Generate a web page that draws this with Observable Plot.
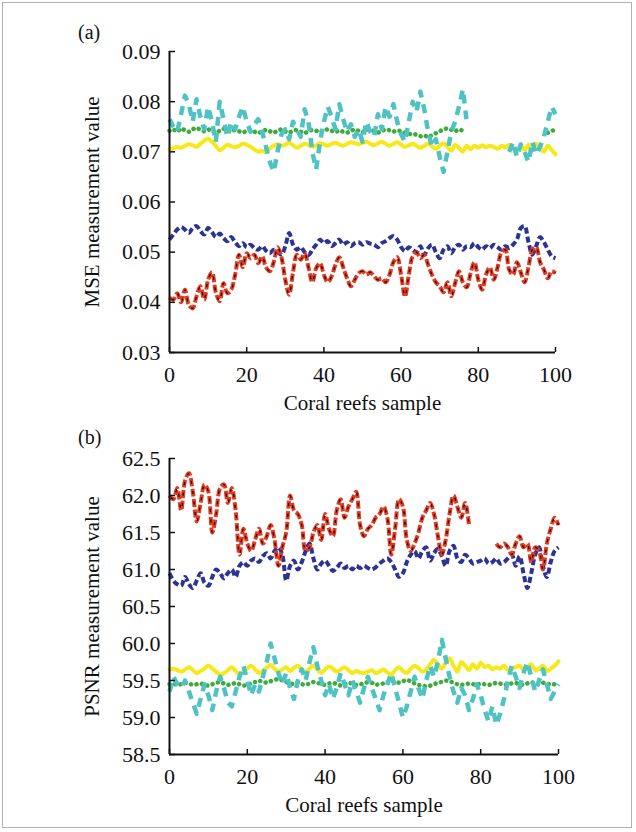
<!DOCTYPE html>
<html>
<head>
<meta charset="utf-8">
<script src="https://cdn.jsdelivr.net/npm/d3@7"></script>
<script src="https://cdn.jsdelivr.net/npm/@observablehq/plot@0.6"></script>
<style>
  html, body { margin: 0; padding: 0; background: #fff; }
  #wrap { position: relative; width: 636px; height: 832px; overflow: hidden; font-family: "Liberation Serif", "Times New Roman", serif; }
  #wrap svg, #wrap svg text { font-family: "Liberation Serif", "Times New Roman", serif !important; }
  #frame { position: absolute; left: 2px; top: 2px; width: 630px; height: 826px; border: 1.5px solid #b0b0b0; box-sizing: border-box; pointer-events: none; }
  .panel { position: absolute; left: 0; }
  .tag { position: absolute; font-size: 20px; color: #111; }
</style>
</head>
<body>
<div id="wrap">
  <div id="pa" class="panel" style="top:0px"></div>
  <div id="pb" class="panel" style="top:415px"></div>
  <div class="tag" style="left:78px; top:21px">(a)</div>
  <div class="tag" style="left:78px; top:426px">(b)</div>
  <div id="frame"></div>
</div>
<script>
// ---------- data ----------
const samples = d3.range(0, 101);
const xTicks = [0, 20, 40, 60, 80, 100];
const mseTicks = [0.03, 0.04, 0.05, 0.06, 0.07, 0.08, 0.09];
const psnrTicks = [58.5, 59.0, 59.5, 60.0, 60.5, 61.0, 61.5, 62.0, 62.5];

const N = null;
// (a) MSE
const mseCyan = [0.0765,0.0750,0.0740,0.0775,0.0812,0.0795,0.0760,0.0805,0.0770,0.0745,0.0790,0.0760,0.0720,0.0800,0.0765,0.0730,0.0760,0.0745,0.0770,0.0790,0.0760,0.0740,0.0755,0.0765,0.0740,0.0710,0.0680,0.0660,0.0700,0.0735,0.0745,0.0725,0.0760,0.0745,0.0730,0.0785,0.0760,0.0700,0.0665,0.0720,0.0760,0.0790,0.0770,0.0745,0.0795,0.0765,0.0740,0.0755,0.0730,0.0745,0.0720,0.0760,0.0740,0.0730,0.0775,0.0745,0.0790,0.0770,0.0795,0.0760,0.0735,0.0720,0.0760,0.0800,0.0780,0.0820,0.0785,0.0740,0.0710,0.0725,0.0690,0.0660,0.0700,0.0740,0.0760,0.0790,0.0825,0.0760,N,N,N,N,N,N,N,N,N,N,0.0700,0.0720,0.0690,0.0715,0.0700,0.0680,0.0720,0.0695,0.0710,0.0730,0.0760,0.0790,0.0775];
const mseGreen = [0.0742,0.0745,0.0740,0.0747,0.0743,0.0740,0.0745,0.0748,0.0744,0.0741,0.0745,0.0742,0.0738,0.0742,0.0746,0.0743,0.0740,0.0744,0.0741,0.0738,0.0742,0.0744,0.0740,0.0737,0.0741,0.0744,0.0741,0.0738,0.0742,0.0745,0.0741,0.0738,0.0742,0.0744,0.0740,0.0737,0.0741,0.0744,0.0742,0.0739,0.0743,0.0745,0.0742,0.0739,0.0743,0.0740,0.0738,0.0742,0.0745,0.0742,0.0739,0.0743,0.0745,0.0741,0.0738,0.0742,0.0745,0.0743,0.0740,0.0743,0.0741,0.0738,0.0735,0.0737,0.0734,0.0731,0.0733,0.0729,0.0733,0.0737,0.0741,0.0745,0.0747,0.0744,0.0741,0.0745,0.0742,0.0740,N,N,N,N,N,N,N,N,N,N,N,N,N,N,N,N,N,N,N,N,0.0738,0.0742,0.0744];
const mseYellow = [0.0705,0.0707,0.0710,0.0708,0.0712,0.0715,0.0713,0.0710,0.0716,0.0722,0.0726,0.0720,0.0712,0.0703,0.0708,0.0714,0.0711,0.0709,0.0712,0.0716,0.0714,0.0710,0.0705,0.0700,0.0702,0.0700,0.0707,0.0712,0.0715,0.0712,0.0714,0.0718,0.0713,0.0708,0.0712,0.0716,0.0714,0.0710,0.0713,0.0717,0.0715,0.0712,0.0716,0.0718,0.0715,0.0712,0.0716,0.0719,0.0717,0.0715,0.0718,0.0720,0.0716,0.0713,0.0717,0.0720,0.0716,0.0712,0.0716,0.0719,0.0714,0.0710,0.0713,0.0716,0.0712,0.0708,0.0712,0.0716,0.0711,0.0706,0.0712,0.0717,0.0710,0.0702,0.0714,0.0708,0.0700,0.0712,0.0705,0.0712,0.0708,0.0713,0.0709,0.0712,0.0710,0.0706,0.0712,0.0708,0.0714,0.0706,0.0700,0.0712,0.0704,0.0714,0.0702,0.0716,0.0708,0.0700,0.0712,0.0704,0.0695];
const mseBlue = [0.0525,0.0535,0.0545,0.0550,0.0545,0.0538,0.0548,0.0552,0.0542,0.0535,0.0548,0.0540,0.0530,0.0537,0.0528,0.0522,0.0530,0.0520,0.0512,0.0518,0.0510,0.0515,0.0508,0.0505,0.0512,0.0503,0.0498,0.0505,0.0500,0.0495,0.0512,0.0538,0.0515,0.0505,0.0510,0.0500,0.0494,0.0505,0.0515,0.0525,0.0518,0.0522,0.0512,0.0518,0.0525,0.0515,0.0520,0.0512,0.0518,0.0520,0.0515,0.0520,0.0517,0.0515,0.0510,0.0518,0.0522,0.0528,0.0532,0.0525,0.0510,0.0502,0.0510,0.0505,0.0500,0.0512,0.0495,0.0508,0.0515,0.0500,0.0488,0.0505,0.0512,0.0498,0.0510,0.0515,0.0505,0.0512,0.0510,0.0518,0.0510,0.0505,0.0512,0.0508,0.0515,0.0510,0.0505,0.0512,0.0508,0.0515,0.0525,0.0548,0.0552,0.0520,0.0495,0.0512,0.0530,0.0520,0.0505,0.0492,0.0488];
const mseRed = [0.0410,0.0405,0.0418,0.0400,0.0425,0.0395,0.0388,0.0412,0.0432,0.0405,0.0445,0.0460,0.0420,0.0402,0.0438,0.0418,0.0425,0.0455,0.0495,0.0470,0.0498,0.0488,0.0495,0.0478,0.0492,0.0470,0.0462,0.0480,0.0510,0.0490,0.0445,0.0415,0.0460,0.0495,0.0485,0.0498,0.0470,0.0440,0.0468,0.0478,0.0455,0.0440,0.0452,0.0475,0.0490,0.0470,0.0448,0.0432,0.0445,0.0458,0.0462,0.0455,0.0460,0.0452,0.0445,0.0448,0.0440,0.0455,0.0480,0.0490,0.0455,0.0412,0.0455,0.0492,0.0500,0.0488,0.0495,0.0475,0.0455,0.0440,0.0432,0.0420,0.0440,0.0412,0.0438,0.0462,0.0440,0.0430,0.0458,0.0480,0.0445,0.0425,0.0455,0.0470,0.0445,0.0470,0.0500,0.0505,0.0465,0.0455,0.0480,0.0460,0.0440,0.0470,0.0505,0.0510,0.0480,0.0465,0.0448,0.0462,0.0458];

// (b) PSNR
const psnrRed = [62.00,61.95,62.10,61.80,62.20,62.30,62.05,61.65,61.90,62.15,62.05,61.50,61.75,62.10,62.15,61.90,62.10,61.80,61.20,61.55,61.35,61.25,61.40,61.55,61.35,61.45,61.60,61.40,61.05,61.30,61.50,62.00,61.80,61.75,61.60,61.25,61.30,61.50,61.60,61.40,61.75,61.55,61.45,61.80,61.95,61.70,61.85,61.95,62.05,61.60,61.45,61.55,61.60,61.70,61.75,61.85,61.70,61.20,61.55,61.95,61.85,61.40,61.25,61.35,61.50,61.70,61.80,61.90,61.75,61.45,61.20,61.40,61.75,62.00,61.85,61.70,61.90,61.60,N,N,N,N,N,N,61.35,61.30,61.35,61.30,61.20,61.35,61.45,61.30,61.35,61.10,61.30,61.25,61.00,61.35,61.55,61.70,61.60];
const psnrBlue = [60.95,60.85,60.80,60.78,60.90,60.80,60.75,60.85,60.95,60.82,60.78,60.90,61.00,60.95,60.88,60.95,61.00,60.90,61.05,61.10,61.05,61.12,61.15,61.10,61.18,61.22,61.15,61.25,61.30,61.20,60.85,61.05,61.12,61.00,61.10,61.25,61.35,61.15,61.00,61.08,61.12,61.05,60.98,61.02,61.08,61.02,61.05,61.00,61.05,61.02,61.05,61.02,61.00,61.03,61.08,61.12,61.15,61.10,61.00,60.90,60.95,61.10,61.20,61.25,61.15,61.25,61.30,61.12,61.22,61.28,61.18,61.05,61.25,61.32,61.15,61.10,61.20,61.15,61.08,61.10,61.12,61.15,61.08,61.10,61.15,61.08,61.10,61.15,61.20,61.05,61.18,60.95,60.75,60.95,61.20,61.30,61.05,60.90,61.10,61.25,61.30];
const psnrYellow = [59.65,59.66,59.64,59.62,59.65,59.68,59.64,59.60,59.63,59.66,59.70,59.66,59.62,59.58,59.60,59.64,59.68,59.63,59.58,59.62,59.66,59.70,59.65,59.60,59.63,59.67,59.71,59.66,59.62,59.65,59.68,59.63,59.67,59.70,59.65,59.62,59.66,59.70,59.65,59.60,59.65,59.69,59.66,59.62,59.65,59.68,59.64,59.60,59.63,59.61,59.60,59.62,59.64,59.60,59.62,59.65,59.61,59.58,59.64,59.68,59.63,59.60,59.66,59.70,59.67,59.62,59.65,59.72,59.78,59.72,59.66,59.74,59.80,59.70,59.62,59.75,59.70,59.64,59.72,59.66,59.74,59.68,59.70,59.65,59.68,59.66,59.70,59.64,59.66,59.68,59.70,59.65,59.68,59.72,59.64,59.66,59.70,59.63,59.66,59.70,59.76];
const psnrGreen = [59.45,59.46,59.44,59.45,59.47,59.46,59.44,59.45,59.46,59.44,59.43,59.45,59.47,59.48,59.46,59.44,59.45,59.47,59.45,59.43,59.44,59.46,59.48,59.50,59.48,59.47,59.49,59.51,59.52,59.50,59.48,59.46,59.45,59.47,59.45,59.44,59.46,59.48,59.47,59.45,59.44,59.46,59.47,59.45,59.43,59.45,59.47,59.46,59.44,59.45,59.46,59.48,59.47,59.44,59.45,59.46,59.48,59.50,59.48,59.47,59.49,59.51,59.49,59.46,59.44,59.43,59.42,59.43,59.45,59.47,59.48,59.50,59.49,59.47,59.45,59.44,59.45,59.46,59.45,59.44,59.46,59.45,59.44,59.45,59.47,59.46,59.44,59.45,59.46,59.47,59.45,59.44,59.46,59.48,59.46,59.45,59.47,59.46,59.44,59.45,59.46];
const psnrCyan = [59.35,59.55,59.45,59.40,59.50,59.35,59.20,59.05,59.25,59.45,59.30,59.10,59.35,59.55,59.40,59.20,59.15,59.35,59.55,59.70,59.50,59.30,59.45,59.35,59.55,59.75,60.00,59.80,59.60,59.45,59.60,59.40,59.25,59.50,59.65,59.50,59.75,59.95,59.70,59.50,59.30,59.45,59.25,59.40,59.60,59.45,59.30,59.50,59.35,59.20,59.40,59.55,59.40,59.25,59.10,59.30,59.45,59.60,59.40,59.20,59.00,59.15,59.35,59.55,59.40,59.25,59.50,59.70,59.55,59.75,60.05,59.80,59.55,59.35,59.20,59.40,59.30,59.10,59.25,59.45,59.30,59.10,58.95,59.15,58.90,59.05,59.25,59.50,59.70,59.55,59.40,59.60,59.75,59.55,59.35,59.50,59.65,59.45,59.25,59.35,59.45];

// ---------- styles ----------
const C = { cyan: "#4fc3c4", green: "#3dab3a", yellow: "#f7e81a", blue: "#2c3394", red: "#e4381f" };
const FONT = "'Liberation Serif', 'Times New Roman', serif";

const rows = vals => samples.map((s, i) => ({x: s, y: vals[i]}));

function seriesMarks(cyan, green, yellow, blue, red) {
  return [
    Plot.line(rows(yellow), {x: "x", y: "y", stroke: C.yellow, strokeWidth: 4, curve: "catmull-rom"}),
    Plot.line(rows(green), {x: "x", y: "y", stroke: C.green, strokeWidth: 4.5, strokeDasharray: "0.1,5.5", strokeLinecap: "round"}),
    Plot.line(rows(cyan), {x: "x", y: "y", stroke: C.cyan, strokeWidth: 4.5, strokeDasharray: "9,7", strokeLinecap: "butt"}),
    Plot.line(rows(blue), {x: "x", y: "y", stroke: C.blue, strokeWidth: 4, strokeDasharray: "6,3", strokeLinecap: "butt", curve: "catmull-rom"}),
    Plot.line(rows(red), {x: "x", y: "y", stroke: C.red, strokeWidth: 4, strokeDasharray: "8,2.5", strokeLinecap: "butt", curve: "catmull-rom"}),
    Plot.line(rows(red), {x: "x", y: "y", stroke: "#1a0a06", strokeWidth: 1.3, strokeDasharray: "3,7.5", strokeDashoffset: -2.5, strokeLinecap: "butt", curve: "catmull-rom"})
  ];
}

function panel(opts) {
  return Plot.plot({
    width: 636,
    height: opts.height,
    marginTop: opts.mt,
    marginBottom: opts.mb,
    marginLeft: 169,
    marginRight: opts.mr,
    style: {fontFamily: FONT, fontSize: "21px", color: "#111", background: "transparent", overflow: "visible"},
    x: {domain: [0, 100]},
    y: {domain: opts.ydomain},
    marks: [
      ...seriesMarks(...opts.series),
      Plot.axisX({ticks: xTicks, tickSize: -5, tickPadding: 19, tickFormat: d3.format("d"), fontSize: 22,
        label: null, strokeWidth: 1.5}),
      Plot.axisX({ticks: [], tickSize: 0, label: "Coral reefs sample", labelAnchor: "center", labelArrow: "none", labelOffset: 57, fontSize: 21}),
      Plot.axisY({ticks: opts.yticks, tickSize: -6, tickPadding: 15, tickFormat: d3.format(opts.fmt), fontSize: 22,
        label: null, strokeWidth: 1.5}),
      Plot.axisY({ticks: [], tickSize: 0, label: opts.ylabel, labelAnchor: "center", labelArrow: "none", labelOffset: 85, fontSize: 21}),
      Plot.ruleX([0], {stroke: "#111", strokeWidth: 2}),
      Plot.ruleY([opts.ydomain[0]], {stroke: "#111", strokeWidth: 2})
    ]
  });
}

document.getElementById("pa").append(panel({
  height: 415, mt: 51, mb: 63, mr: 81,
  ydomain: [0.03, 0.09], yticks: mseTicks, fmt: ".2f",
  ylabel: "MSE measurement value",
  series: [mseCyan, mseGreen, mseYellow, mseBlue, mseRed]
}));

document.getElementById("pb").append(panel({
  height: 417, mt: 43, mb: 78, mr: 78,
  ydomain: [58.5, 62.5], yticks: psnrTicks, fmt: ".1f",
  ylabel: "PSNR measurement value",
  series: [psnrCyan, psnrGreen, psnrYellow, psnrBlue, psnrRed]
}));
</script>
</body>
</html>
